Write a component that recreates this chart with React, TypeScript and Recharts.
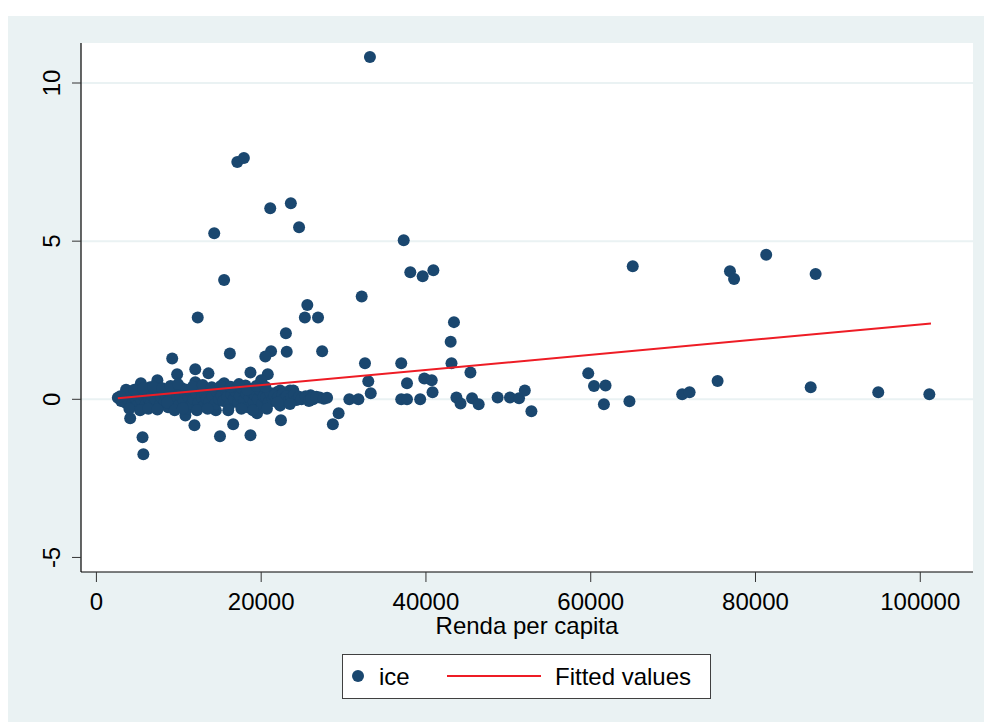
import React from 'react';
import { ScatterChart, Scatter, XAxis, YAxis, CartesianGrid, Legend, Label } from 'recharts';

// ice vs Renda per capita: [renda, ice]
const icePoints: [number, number][] = [
  [33200, 10.82], [17100, 7.5], [17900, 7.63], [21100, 6.04], [23600, 6.2], [14300, 5.25], [24600, 5.44],
  [15500, 3.77], [37300, 5.03], [38100, 4.02], [39600, 3.89], [40900, 4.08], [65100, 4.21], [76900, 4.05],
  [77400, 3.8], [81300, 4.57], [87300, 3.96], [32200, 3.25], [25600, 2.98], [25300, 2.59], [26900, 2.59],
  [12300, 2.59], [23000, 2.09], [23100, 1.5], [27400, 1.52], [21200, 1.52], [20500, 1.35], [16200, 1.45],
  [9200, 1.29], [43400, 2.44], [43000, 1.82], [43100, 1.14], [32600, 1.14], [37000, 1.14], [45400, 0.85],
  [59700, 0.82], [60400, 0.42], [61800, 0.44], [61600, -0.16], [64700, -0.06], [71100, 0.16], [72000, 0.22],
  [75400, 0.58], [86700, 0.38], [94900, 0.22], [101100, 0.16], [33000, 0.57], [33300, 0.19], [30700, 0.0],
  [31800, 0.0], [29400, -0.44], [28700, -0.79], [37700, 0.51], [37000, 0.0], [37700, 0.0], [39300, 0.0],
  [39800, 0.66], [40700, 0.6], [40800, 0.22], [43700, 0.06], [44200, -0.13], [45600, 0.03], [46400, -0.16],
  [48700, 0.06], [50200, 0.06], [51300, 0.03], [52000, 0.28], [52800, -0.38], [18700, 0.85], [20800, 0.79],
  [20000, 0.6], [12000, 0.95], [12000, 0.54], [9800, 0.79], [13600, 0.82], [15500, 0.51], [5400, 0.51],
  [7400, 0.6], [4000, 0.25], [18100, 0.44], [4100, -0.6], [5600, -1.2], [5700, -1.74], [10800, -0.51],
  [11900, -0.82], [14500, -0.35], [15000, -1.17], [16600, -0.79], [18700, -1.14], [19500, -0.44], [22400, -0.66],
  [23500, 0.28], [21900, 0.22], [25000, 0.03], [26300, 0.06], [26300, 0.0], [27100, 0.06], [26000, 0.13],
  [6500, 0.38], [22300, 0.28], [23900, 0.28],
  [2600, 0.05], [3000, -0.05], [3300, 0.12], [3500, -0.1], [3800, 0.02], [4200, 0.15], [4400, -0.12],
  [4700, 0.05], [4900, -0.2], [5100, 0.1], [5300, 0.2], [5500, -0.05], [5800, 0.08], [6000, -0.15],
  [6200, 0.25], [6400, 0.0], [6600, -0.1], [6800, 0.12], [7000, 0.3], [7200, -0.02], [7500, 0.18],
  [7700, -0.18], [7900, 0.05], [8100, 0.22], [8300, -0.08], [8500, 0.1], [8700, -0.25], [8900, 0.0],
  [9100, 0.15], [9400, -0.12], [9600, 0.3], [9800, 0.05], [10000, -0.18], [10200, 0.12], [10400, 0.35],
  [10600, -0.05], [10800, 0.2], [11000, -0.3], [11200, 0.08], [11400, 0.25], [11600, -0.15], [11800, 0.0],
  [12100, 0.18], [12400, -0.1], [12600, 0.3], [12800, 0.05], [13000, -0.22], [13200, 0.15], [13400, 0.02],
  [13700, -0.08], [13900, 0.25], [14100, 0.1], [14400, -0.15], [14700, 0.2], [14900, 0.0], [15200, 0.12],
  [15400, -0.05], [15700, 0.3], [15900, 0.08], [16100, -0.2], [16400, 0.15], [16700, 0.02], [16900, 0.25],
  [17200, -0.1], [17400, 0.1], [17700, 0.35], [17900, -0.02], [18200, 0.18], [18400, -0.25], [18600, 0.05],
  [18900, 0.22], [19100, -0.08], [19300, 0.12], [19600, 0.0], [19800, 0.3], [20100, -0.15], [20300, 0.1],
  [20600, 0.05], [20900, -0.1], [21100, 0.2], [21400, 0.0], [21600, 0.12], [21800, -0.05], [22100, 0.08],
  [22300, -0.2], [22600, 0.15], [22800, 0.02], [23100, 0.1], [23300, -0.08], [23700, 0.05], [24000, 0.15],
  [24300, -0.02], [24600, 0.08], [24900, 0.0], [25400, 0.1], [25800, -0.05], [26100, 0.03], [26700, 0.08],
  [27600, 0.02], [28000, 0.05],
  [3600, 0.3], [4600, 0.3], [5700, 0.35], [6900, 0.4], [8000, 0.35], [9000, 0.42], [9900, 0.48],
  [10900, 0.3], [11700, 0.4], [12900, 0.45], [14000, 0.38], [15100, 0.42], [16300, 0.4], [17300, 0.48],
  [18300, 0.3], [19400, 0.42], [20500, 0.4], [2900, 0.1], [4000, -0.3], [5300, -0.35], [6300, -0.3],
  [7400, -0.32], [8600, -0.1], [9500, -0.35], [10500, -0.28], [12200, -0.35], [13500, -0.3], [16000, -0.35],
  [17600, -0.3], [19000, -0.35], [20700, -0.3], [22000, -0.1], [23500, -0.15],
];

// Fitted values (linear fit endpoints)
const fitX = [2600, 101300];
const fitY = [0.03, 2.4];

const xTicks = [0, 20000, 40000, 60000, 80000, 100000];
const yTicks = [-5, 0, 5, 10];
const gridValues = [0, 5, 10];

const iceData = icePoints.map(([x, y]) => ({ x, y }));
const fitData = fitX.map((x, i) => ({ x, y: fitY[i] }));

const NAVY = '#1a476f';
const RED = '#ee1c25';
const BG = '#eaf2f3';
const FONT = '"Liberation Sans", Arial, sans-serif';

const Dot = (props: any) => <circle cx={props.cx} cy={props.cy} r={6} fill={NAVY} />;
const NoDot = () => <g />;

const YTick = (props: any) => {
  const { x, y, payload } = props;
  const bx = x - 12;
  return (
    <text x={bx} y={y} transform={`rotate(-90 ${bx} ${y})`} textAnchor="middle" fill="#000" fontSize={24} fontFamily={FONT}>
      {payload.value}
    </text>
  );
};

const LegendBox = () => (
  <div style={{ width: 369, height: 45, boxSizing: 'border-box', border: '1px solid #404040', background: '#fff', position: 'relative' }}>
    <svg width={367} height={43} style={{ position: 'absolute', left: 0, top: 0 }}>
      <circle cx={15} cy={21} r={6} fill={NAVY} />
      <text x={36} y={30} fontSize={24} fontFamily={FONT} fill="#000">ice</text>
      <line x1={104} x2={198} y1={21} y2={21} stroke={RED} strokeWidth={2} />
      <text x={212} y={30} fontSize={24} fontFamily={FONT} fill="#000">Fitted values</text>
    </svg>
  </div>
);

export default function App() {
  return (
    <div style={{ position: 'relative', width: 984, height: 722, background: '#fff', overflow: 'hidden' }}>
      <style>{'body{margin:0}'}</style>
      <div style={{ position: 'absolute', left: 8, top: 16, width: 976, height: 706, background: BG }} />
      <div style={{ position: 'absolute', left: 0, top: 0 }}>
        <ScatterChart width={984} height={722} margin={{ top: 43, right: 11, left: 41, bottom: 88 }}>
          <CartesianGrid fill="#fff" vertical={false} stroke={BG} strokeWidth={2} horizontalValues={gridValues} />
          <XAxis
            type="number"
            dataKey="x"
            domain={[-1870, 106400]}
            ticks={xTicks}
            allowDataOverflow
            height={62}
            tickSize={10}
            tickMargin={11}
            axisLine={{ stroke: '#000', strokeWidth: 1.2 }}
            tickLine={{ stroke: '#333' }}
            tick={{ fill: '#000', fontSize: 24, fontFamily: FONT }}
          >
            <Label value="Renda per capita" position="insideBottom" offset={0} fill="#000" fontSize={24} fontFamily={FONT} />
          </XAxis>
          <YAxis
            type="number"
            dataKey="y"
            domain={[-5.46, 11.265]}
            ticks={yTicks}
            allowDataOverflow
            width={40}
            tickSize={9}
            tickMargin={0}
            axisLine={{ stroke: '#000', strokeWidth: 1.2 }}
            tickLine={{ stroke: '#333' }}
            tick={<YTick />}
          />
          <Legend
            layout="vertical"
            align="center"
            verticalAlign="middle"
            content={<LegendBox />}
            wrapperStyle={{ left: 342, top: 654, width: 369, height: 45 }}
          />
          <Scatter name="ice" data={iceData} shape={<Dot />} isAnimationActive={false} />
          <Scatter
            name="Fitted values"
            data={fitData}
            line={{ stroke: RED, strokeWidth: 2 }}
            lineType="joint"
            shape={<NoDot />}
            isAnimationActive={false}
          />
        </ScatterChart>
      </div>
    </div>
  );
}
